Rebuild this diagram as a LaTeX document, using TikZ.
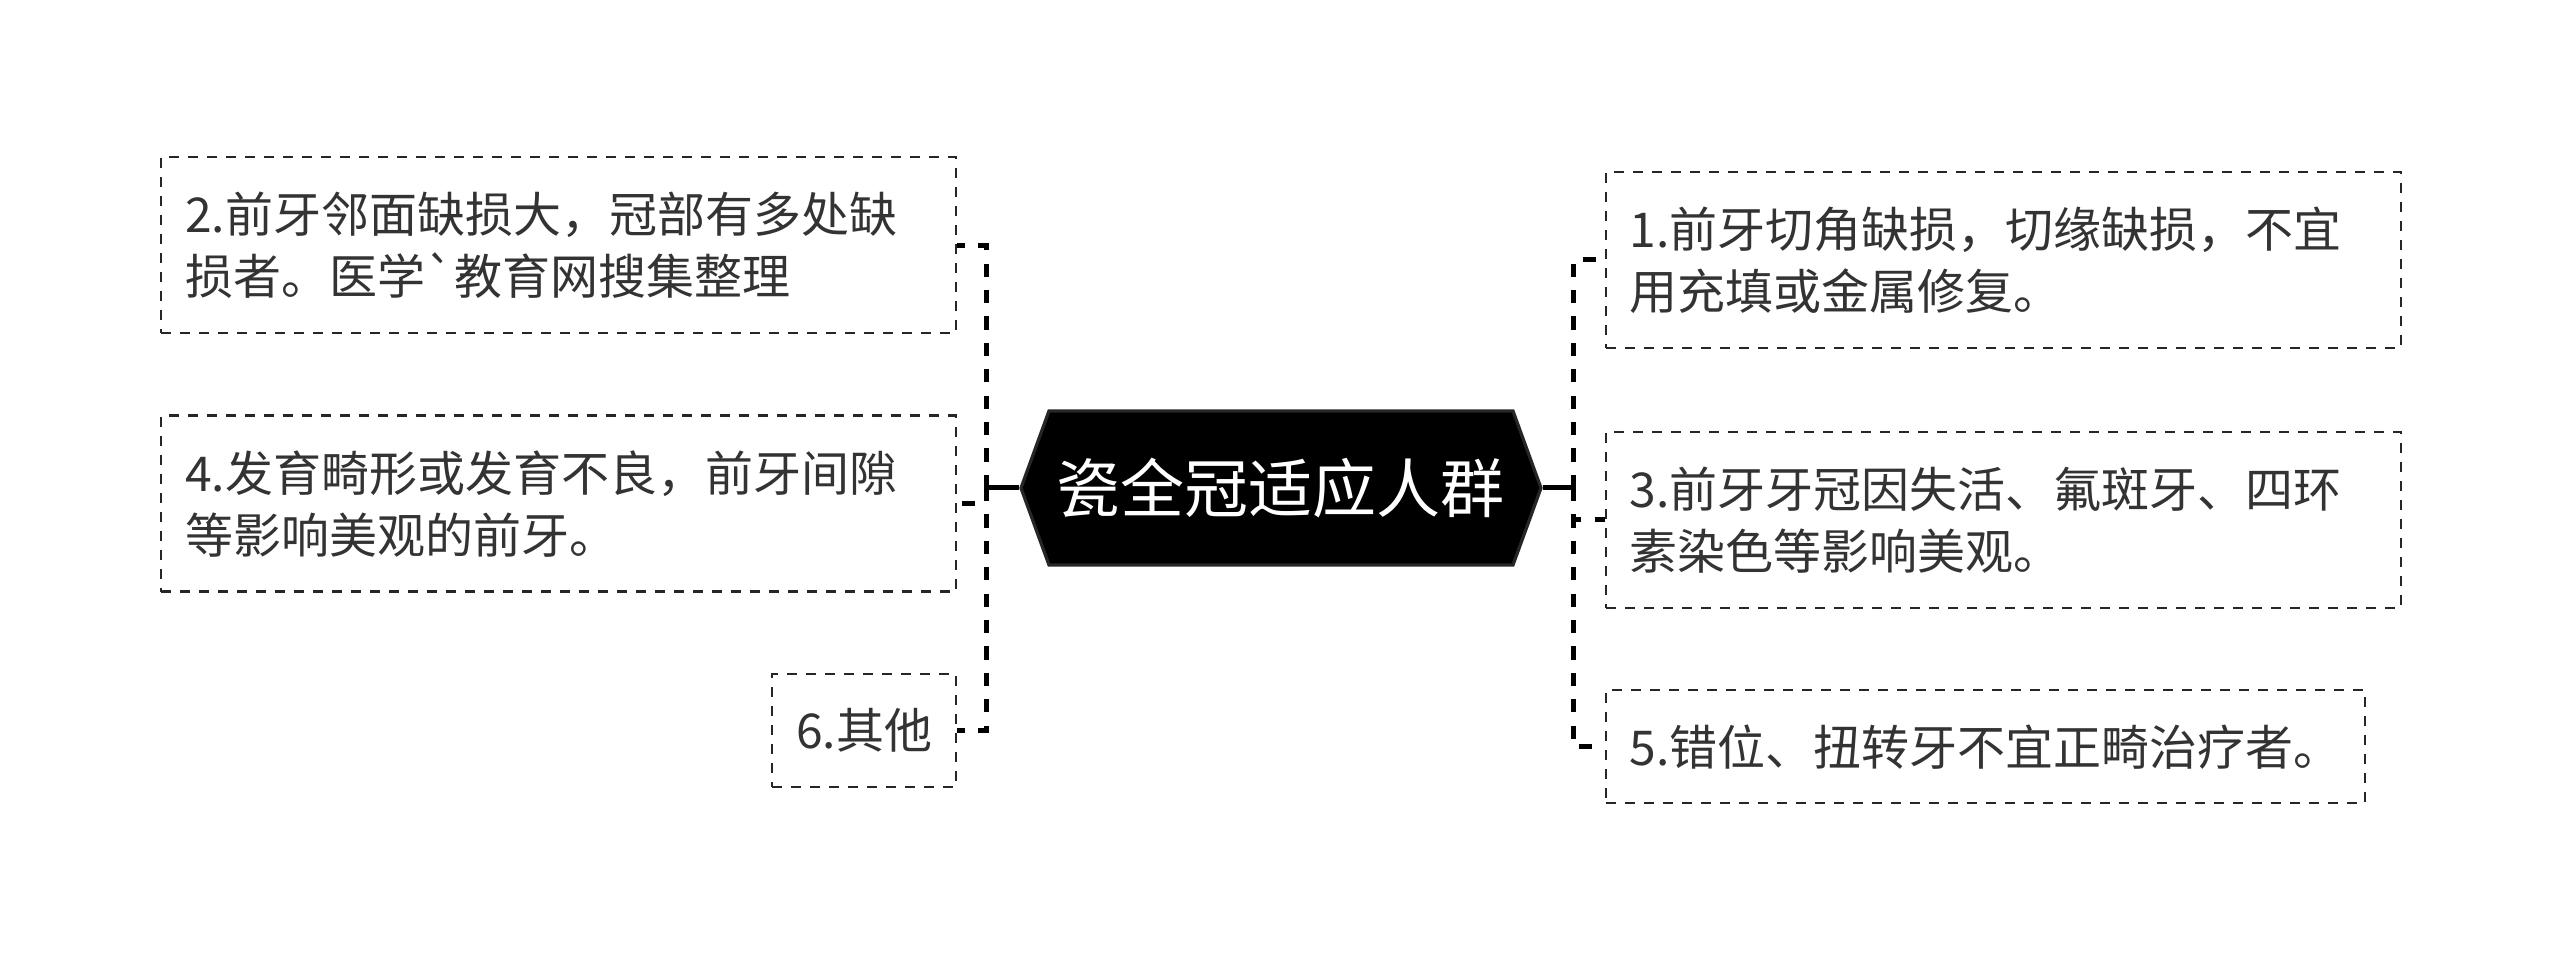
\documentclass[tikz,border=0pt]{standalone}
\usepackage{fontspec}
\setmainfont{Noto Sans CJK SC}
\usetikzlibrary{positioning, shapes.symbols}
\definecolor{inkgray}{HTML}{333333}

\begin{document}
\begin{tikzpicture}[
  node distance=20pt and 15.5pt,
  rootnode/.style={signal, signal to=west and east, signal pointer angle=140, fill=black, draw=black!85, line width=0.8pt, text=white, font=\fontsize{16}{19}\selectfont, inner xsep=2pt, minimum height=38.5pt},
  leafbox/.style={draw=black!85, line width=0.55pt, dash pattern=on 2.5pt off 2.25pt, text=inkgray, align=left, font=\fontsize{12}{15.5}\selectfont, inner xsep=6pt, minimum height=44pt},
  widebox/.style={leafbox, text width=186.75pt},
  smallbox/.style={leafbox, minimum height=28.25pt},
  stem/.style={line width=1.25pt},
  link/.style={line width=1.25pt, dash pattern=on 3.3pt off 3.3pt}
]
\useasboundingbox (-320.25pt,-118pt) rectangle (319.75pt,122pt);
\node[rootnode] (root) at (0,0) {瓷全冠适应人群};

\node[widebox, left=of root, yshift=-3.9pt] (b4) {4.发育畸形或发育不良，前牙间隙\\等影响美观的前牙。};
\node[widebox, above=of b4] (b2) {2.前牙邻面缺损大，冠部有多处缺\\损者。医学\textasciigrave 教育网搜集整理};
\node[smallbox, minimum width=46pt, below=of b4.south east, anchor=north east] (b6) {6.其他};

\node[widebox, right=of root, yshift=-8pt] (b3) {3.前牙牙冠因失活、氟斑牙、四环\\素染色等影响美观。};
\node[widebox, above=20.5pt of b3] (b1) {1.前牙切角缺损，切缘缺损，不宜\\用充填或金属修复。};
\node[smallbox, text width=177.75pt, below=of b3.south west, anchor=north west] (b5) {5.错位、扭转牙不宜正畸治疗者。};

\draw[stem] (root.west) -- ++(-8.25pt,0) coordinate (lj);
\draw[stem] (root.east) -- ++(7.75pt,0) coordinate (rj);
\draw[link] (lj) |- (b2.east); \draw[link] (lj) |- (b4.east); \draw[link] (lj) |- (b6.east);
\draw[link] (rj) |- (b1.west); \draw[link] (rj) |- (b3.west); \draw[link] (rj) |- (b5.west);
\end{tikzpicture}
\end{document}
